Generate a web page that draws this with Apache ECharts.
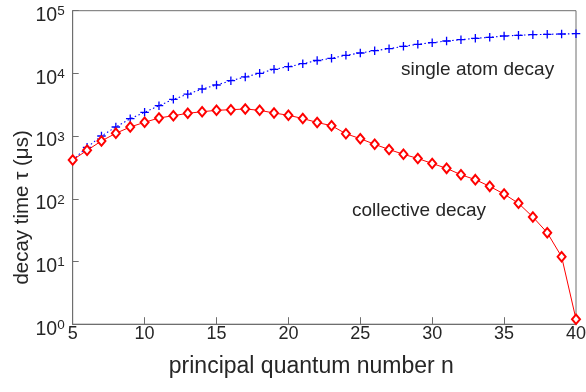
<!DOCTYPE html>
<html>
<head>
<meta charset="utf-8">
<script src="https://cdn.jsdelivr.net/npm/echarts@6/dist/echarts.min.js"></script>
<style>
html,body{margin:0;padding:0;background:#fff;}
#chart{width:586px;height:392px;}
</style>
</head>
<body>
<div id="chart"></div>
<script>
const nValues = [5,6,7,8,9,10,11,12,13,14,15,16,17,18,19,20,21,22,23,24,25,26,27,28,29,30,31,32,33,34,35,36,37,38,39,40];
const singleAtomDecay = [416,663,1004,1397,1895,2398,3055,3865,4660,5640,6530,7650,8770,10040,11620,12790,14280,16060,17420,19450,21150,23010,24760,27060,29110,30880,32870,34450,36300,37650,39510,40530,41430,42050,42490,42970];
const collectiveDecay = [416,593,836,1109,1397,1660,1944,2116,2310,2449,2578,2637,2706,2578,2335,2147,1909,1648,1465,1092,909,740,611,513,440,366,306,242,202,158,119,84.8,51.3,28.8,11.9,1.2];
const xTickLabels = [5,10,15,20,25,30,35,40];
const yTickExponents = [0,1,2,3,4,5];
const xTitle = 'principal quantum number n';
const yTitle = 'decay time \u03c4 (\u03bcs)';
const label1 = 'single atom decay';
const label2 = 'collective decay';

const FONT = '"Liberation Sans", Arial, Helvetica, sans-serif';
const TXT = '#262626';
const AX = '#6e6e6e';

const chart = echarts.init(document.getElementById('chart'));
chart.setOption({
  animation: false,
  backgroundColor: '#fff',
  grid: {left: 72.7, right: 10, top: 10.7, bottom: 67.8, show: true, borderColor: AX, borderWidth: 1,
    containLabel: false, outerBoundsMode: 'none'},
  xAxis: {
    type: 'value', min: xTickLabels[0], max: xTickLabels[xTickLabels.length-1], interval: 5,
    axisLine: {show: true, lineStyle: {color: AX, width: 1}},
    axisTick: {show: true, inside: true, length: 7, lineStyle: {color: AX}},
    splitLine: {show: false},
    axisLabel: {color: TXT, fontSize: 18, fontFamily: FONT, margin: 1,
      formatter: v => xTickLabels.indexOf(v) >= 0 ? String(v) : ''},
    name: xTitle, nameLocation: 'middle', nameGap: 31, nameMoveOverlap: false,
    nameTextStyle: {color: TXT, fontSize: 23, fontFamily: FONT, padding: [0, 26, 0, 0]}
  },
  yAxis: {
    type: 'log', logBase: 10, min: Math.pow(10, yTickExponents[0]), max: Math.pow(10, yTickExponents[yTickExponents.length-1]),
    axisLine: {show: true, lineStyle: {color: AX, width: 1}},
    axisTick: {show: true, inside: true, length: 6, lineStyle: {color: AX}},
    minorTick: {show: false},
    splitLine: {show: false},
    axisLabel: {
      color: TXT, fontFamily: FONT, margin: 8, padding: [10, 0, 0, 0],
      formatter: v => '{b|10}{s|' + Math.round(Math.log10(v)) + '}',
      rich: {
        b: {fontSize: 19.5, fontFamily: FONT, color: TXT, lineHeight: 22},
        s: {fontSize: 13.5, fontFamily: FONT, color: TXT, lineHeight: 13, verticalAlign: 'top'}
      }
    },
    name: yTitle, nameLocation: 'middle', nameGap: 40, nameRotate: 90, nameMoveOverlap: false,
    nameTextStyle: {color: TXT, fontSize: 20.5, fontFamily: FONT, padding: [0, 80, 0, 0]}
  },
  series: [
    {
      type: 'line', name: label1,
      data: nValues.map((n, i) => [n, singleAtomDecay[i]]),
      lineStyle: {color: '#0000ff', width: 1.1, type: [1.5, 2.5]},
      symbol: 'path://M0,-1L0,1M-1,0L1,0', symbolSize: 8.5,
      itemStyle: {color: 'none', borderColor: '#0000ff', borderWidth: 1.3},
      showAllSymbol: true, z: 2
    },
    {
      type: 'line', name: label2,
      data: nValues.map((n, i) => [n, collectiveDecay[i]]),
      lineStyle: {color: '#ff0000', width: 1},
      symbol: 'emptyDiamond', symbolSize: [8, 9.5],
      itemStyle: {color: '#ff0000', borderColor: '#ff0000', borderWidth: 0.8},
      showAllSymbol: true, z: 3
    }
  ],
  graphic: [
    {type: 'text', left: 401, top: 60, style: {text: label1, fill: TXT, font: '19px ' + FONT}},
    {type: 'text', left: 352, top: 201, style: {text: label2, fill: TXT, font: '19px ' + FONT}}
  ]
});
</script>
</body>
</html>
